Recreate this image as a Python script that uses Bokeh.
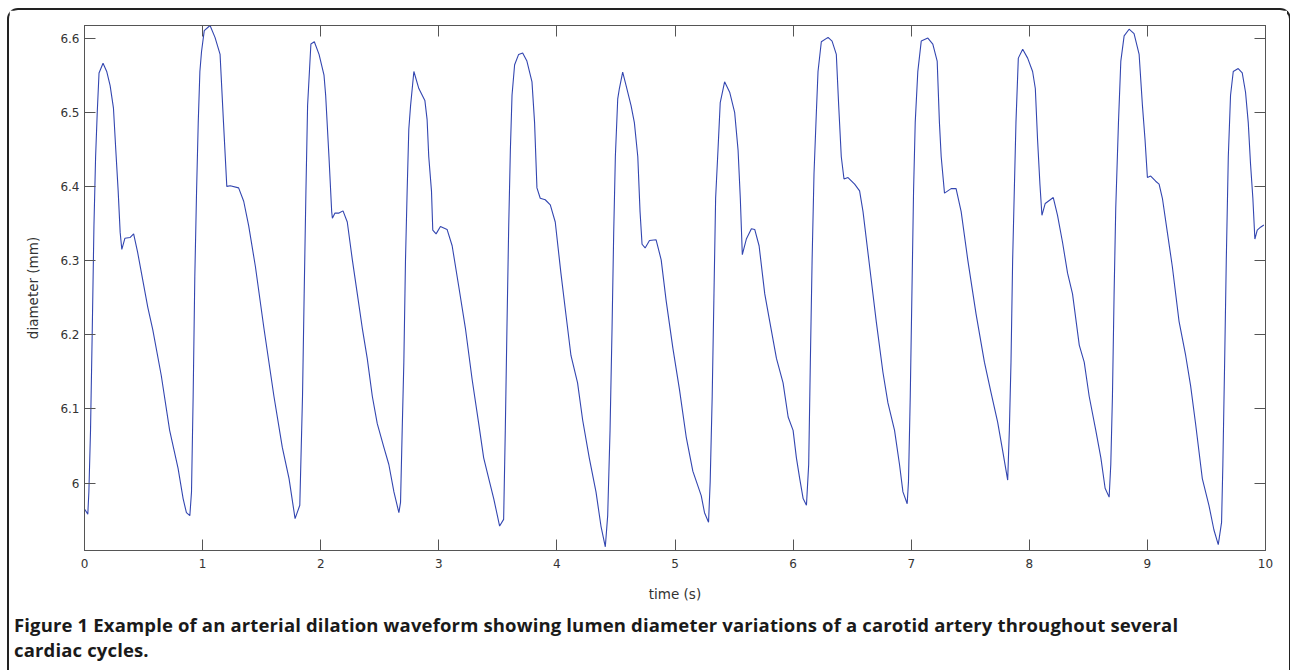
from bokeh.plotting import figure
from bokeh.models import Range1d, LinearAxis, FixedTicker, ColumnDataSource, Div
from bokeh.layouts import column
from bokeh.embed import file_html
from bokeh.resources import INLINE

# ---------------- data ----------------
time_s = [
    0.000, 0.028, 0.037, 0.051, 0.066, 0.080, 0.094, 0.108, 0.123, 0.157, 0.188, 0.217, 0.245, 0.265,
    0.285, 0.302, 0.316, 0.342, 0.385, 0.416, 0.450, 0.493, 0.536, 0.578, 0.650, 0.721, 0.792, 0.835,
    0.863, 0.892, 0.906, 0.920, 0.934, 0.949, 0.963, 0.977, 0.991, 1.014, 1.063, 1.105, 1.148, 1.177,
    1.205, 1.234, 1.305, 1.348, 1.390, 1.447, 1.519, 1.604, 1.675, 1.732, 1.783, 1.823, 1.846, 1.860,
    1.875, 1.889, 1.917, 1.946, 1.986, 2.028, 2.042, 2.070, 2.093, 2.099, 2.121, 2.155, 2.189, 2.225,
    2.268, 2.310, 2.352, 2.394, 2.437, 2.479, 2.535, 2.577, 2.620, 2.662, 2.676, 2.690, 2.704, 2.718,
    2.732, 2.746, 2.761, 2.789, 2.831, 2.882, 2.901, 2.915, 2.938, 2.949, 2.977, 3.014, 3.070, 3.113,
    3.169, 3.225, 3.282, 3.338, 3.380, 3.423, 3.465, 3.515, 3.549, 3.563, 3.577, 3.592, 3.606, 3.620,
    3.642, 3.676, 3.710, 3.746, 3.789, 3.811, 3.831, 3.859, 3.901, 3.944, 3.986, 4.034, 4.076, 4.119,
    4.175, 4.218, 4.274, 4.331, 4.373, 4.410, 4.430, 4.450, 4.467, 4.481, 4.495, 4.515, 4.529, 4.557,
    4.586, 4.628, 4.656, 4.685, 4.704, 4.721, 4.747, 4.784, 4.840, 4.883, 4.925, 4.982, 5.038, 5.095,
    5.151, 5.222, 5.250, 5.284, 5.298, 5.315, 5.330, 5.344, 5.364, 5.383, 5.420, 5.463, 5.505, 5.534,
    5.553, 5.570, 5.604, 5.647, 5.675, 5.712, 5.760, 5.802, 5.859, 5.915, 5.958, 6.000, 6.028, 6.056,
    6.085, 6.113, 6.132, 6.146, 6.161, 6.177, 6.197, 6.211, 6.239, 6.296, 6.330, 6.366, 6.386, 6.408,
    6.431, 6.465, 6.521, 6.563, 6.592, 6.648, 6.704, 6.761, 6.803, 6.859, 6.901, 6.930, 6.966, 6.977,
    6.992, 7.006, 7.020, 7.034, 7.056, 7.085, 7.141, 7.183, 7.220, 7.239, 7.254, 7.282, 7.338, 7.380,
    7.423, 7.479, 7.549, 7.620, 7.676, 7.732, 7.775, 7.817, 7.831, 7.845, 7.859, 7.873, 7.887, 7.907,
    7.944, 7.986, 8.028, 8.051, 8.070, 8.090, 8.107, 8.135, 8.169, 8.203, 8.239, 8.282, 8.324, 8.366,
    8.423, 8.465, 8.507, 8.563, 8.606, 8.642, 8.676, 8.690, 8.704, 8.718, 8.732, 8.755, 8.775, 8.803,
    8.845, 8.887, 8.930, 8.958, 8.980, 9.000, 9.028, 9.070, 9.099, 9.127, 9.169, 9.211, 9.268, 9.324,
    9.366, 9.408, 9.465, 9.521, 9.563, 9.600, 9.628, 9.639, 9.654, 9.668, 9.685, 9.704, 9.727, 9.769,
    9.803, 9.831, 9.854, 9.873, 9.893, 9.910, 9.930, 9.958, 9.986,
]
diameter_mm = [
    5.965, 5.958, 5.988, 6.071, 6.209, 6.347, 6.440, 6.500, 6.553, 6.566, 6.555, 6.536, 6.506, 6.449,
    6.394, 6.338, 6.315, 6.330, 6.331, 6.336, 6.311, 6.274, 6.237, 6.207, 6.145, 6.071, 6.020, 5.979,
    5.960, 5.956, 5.988, 6.117, 6.278, 6.394, 6.486, 6.555, 6.582, 6.610, 6.617, 6.601, 6.578, 6.486,
    6.400, 6.401, 6.398, 6.380, 6.347, 6.292, 6.209, 6.117, 6.048, 6.006, 5.952, 5.970, 6.117, 6.255,
    6.394, 6.509, 6.592, 6.595, 6.578, 6.550, 6.523, 6.440, 6.366, 6.357, 6.364, 6.364, 6.367, 6.352,
    6.301, 6.255, 6.209, 6.168, 6.117, 6.080, 6.048, 6.025, 5.988, 5.960, 5.974, 6.071, 6.163, 6.301,
    6.394, 6.477, 6.509, 6.555, 6.532, 6.516, 6.490, 6.440, 6.394, 6.341, 6.336, 6.346, 6.342, 6.320,
    6.265, 6.209, 6.140, 6.080, 6.034, 6.006, 5.979, 5.942, 5.951, 6.071, 6.209, 6.347, 6.449, 6.523,
    6.564, 6.578, 6.580, 6.569, 6.541, 6.486, 6.398, 6.384, 6.382, 6.375, 6.352, 6.283, 6.228, 6.172,
    6.135, 6.085, 6.034, 5.988, 5.942, 5.914, 5.956, 6.071, 6.209, 6.338, 6.440, 6.518, 6.532, 6.554,
    6.536, 6.509, 6.486, 6.440, 6.366, 6.322, 6.317, 6.327, 6.328, 6.301, 6.246, 6.182, 6.126, 6.062,
    6.016, 5.983, 5.960, 5.947, 6.002, 6.117, 6.255, 6.384, 6.449, 6.513, 6.541, 6.527, 6.500, 6.449,
    6.384, 6.308, 6.329, 6.343, 6.342, 6.320, 6.255, 6.218, 6.168, 6.135, 6.089, 6.071, 6.034, 6.006,
    5.979, 5.970, 6.025, 6.163, 6.301, 6.417, 6.500, 6.555, 6.595, 6.601, 6.596, 6.578, 6.509, 6.440,
    6.410, 6.412, 6.403, 6.394, 6.366, 6.292, 6.218, 6.149, 6.108, 6.071, 6.025, 5.988, 5.972, 6.002,
    6.117, 6.255, 6.394, 6.486, 6.555, 6.596, 6.600, 6.592, 6.569, 6.486, 6.440, 6.391, 6.397, 6.397,
    6.366, 6.301, 6.228, 6.163, 6.122, 6.082, 6.043, 6.004, 6.071, 6.163, 6.301, 6.394, 6.486, 6.573,
    6.585, 6.573, 6.555, 6.532, 6.463, 6.403, 6.361, 6.377, 6.381, 6.385, 6.361, 6.324, 6.283, 6.255,
    6.186, 6.163, 6.117, 6.071, 6.034, 5.993, 5.981, 6.025, 6.117, 6.255, 6.371, 6.486, 6.569, 6.603,
    6.612, 6.606, 6.578, 6.509, 6.463, 6.412, 6.414, 6.407, 6.403, 6.384, 6.338, 6.292, 6.218, 6.172,
    6.131, 6.080, 6.006, 5.970, 5.937, 5.917, 5.947, 6.025, 6.163, 6.301, 6.440, 6.523, 6.555, 6.559,
    6.553, 6.527, 6.486, 6.431, 6.384, 6.329, 6.341, 6.345, 6.348,
]

x_ticks = [0, 1, 2, 3, 4, 5, 6, 7, 8, 9, 10]
x_tick_labels = ["0", "1", "2", "3", "4", "5", "6", "7", "8", "9", "10"]
y_ticks = [6.0, 6.1, 6.2, 6.3, 6.4, 6.5, 6.6]
y_tick_labels = ["6", "6.1", "6.2", "6.3", "6.4", "6.5", "6.6"]
x_label = "time (s)"
y_label = "diameter (mm)"
caption_lines = [
    "Figure 1 Example of an arterial dilation waveform showing lumen diameter variations of a carotid artery throughout several",
    "cardiac cycles.",
]

# ---------------- figure ----------------
AXIS_COLOR = "#555555"
TEXT_COLOR = "#333333"

p = figure(
    width=1278, height=595,
    x_range=Range1d(0, 10), y_range=Range1d(5.909, 6.617),
    output_backend="svg", toolbar_location=None,
    min_border_left=75, min_border_right=22, min_border_top=15, min_border_bottom=55,
    background_fill_color="white", border_fill_color="white",
)
p.grid.visible = False
p.outline_line_color = AXIS_COLOR
p.outline_line_width = 1

src = ColumnDataSource(dict(t=time_s, d=diameter_mm))
p.line("t", "d", source=src, line_color="#3346b0", line_width=1.1)

xa = p.xaxis[0]
ya = p.yaxis[0]
xa.ticker = FixedTicker(ticks=x_ticks)
ya.ticker = FixedTicker(ticks=y_ticks)
xa.major_label_overrides = {float(v): s for v, s in zip(x_ticks, x_tick_labels)}
ya.major_label_overrides = {v: s for v, s in zip(y_ticks, y_tick_labels)}
xa.axis_label = x_label
ya.axis_label = y_label

for ax in (xa, ya):
    ax.axis_line_color = AXIS_COLOR
    ax.major_tick_line_color = AXIS_COLOR
    ax.major_tick_in = 11
    ax.major_tick_out = 0
    ax.minor_tick_in = 0
    ax.minor_tick_out = 0
    ax.minor_tick_line_color = None
    ax.major_label_text_font = "DejaVu Sans"
    ax.major_label_text_font_size = "12px"
    ax.major_label_text_color = TEXT_COLOR
    ax.axis_label_text_font = "DejaVu Sans"
    ax.axis_label_text_font_size = "13.5px"
    ax.axis_label_text_font_style = "normal"
    ax.axis_label_text_color = TEXT_COLOR

xa.major_label_standoff = 8
xa.axis_label_standoff = 15
ya.major_label_standoff = 5
ya.axis_label_standoff = 16

# top / right axes: ticks only
top = LinearAxis(ticker=FixedTicker(ticks=x_ticks))
right = LinearAxis(ticker=FixedTicker(ticks=y_ticks))
for ax in (top, right):
    ax.axis_line_color = AXIS_COLOR
    ax.major_tick_line_color = AXIS_COLOR
    ax.major_tick_in = 11
    ax.major_tick_out = 0
    ax.minor_tick_line_color = None
    ax.major_label_text_font_size = "10px"
    ax.major_label_standoff = 0
top.major_label_overrides = {float(v): "" for v in x_ticks}
right.major_label_overrides = {v: "" for v in y_ticks}
p.add_layout(top, "above")
p.add_layout(right, "right")

caption = Div(
    text="<br>".join(caption_lines),
    width=1270,
    styles={
        "font-family": "'Open Sans'",
        "font-weight": "bold",
        "font-size": "18.5px",
        "line-height": "25px",
        "color": "#1a1a1a",
        "padding-top": "2px",
        "padding-bottom": "8px",
        "white-space": "nowrap",
        "letter-spacing": "0.15px",
    },
)

layout = column(p, caption, styles={
    "border": "2px solid #222222",
    "border-bottom": "none",
    "border-radius": "11px 11px 0 0",
    "margin-left": "7px",
    "margin-top": "8px",
})

open("out.html", "w").write(file_html(layout, INLINE))
